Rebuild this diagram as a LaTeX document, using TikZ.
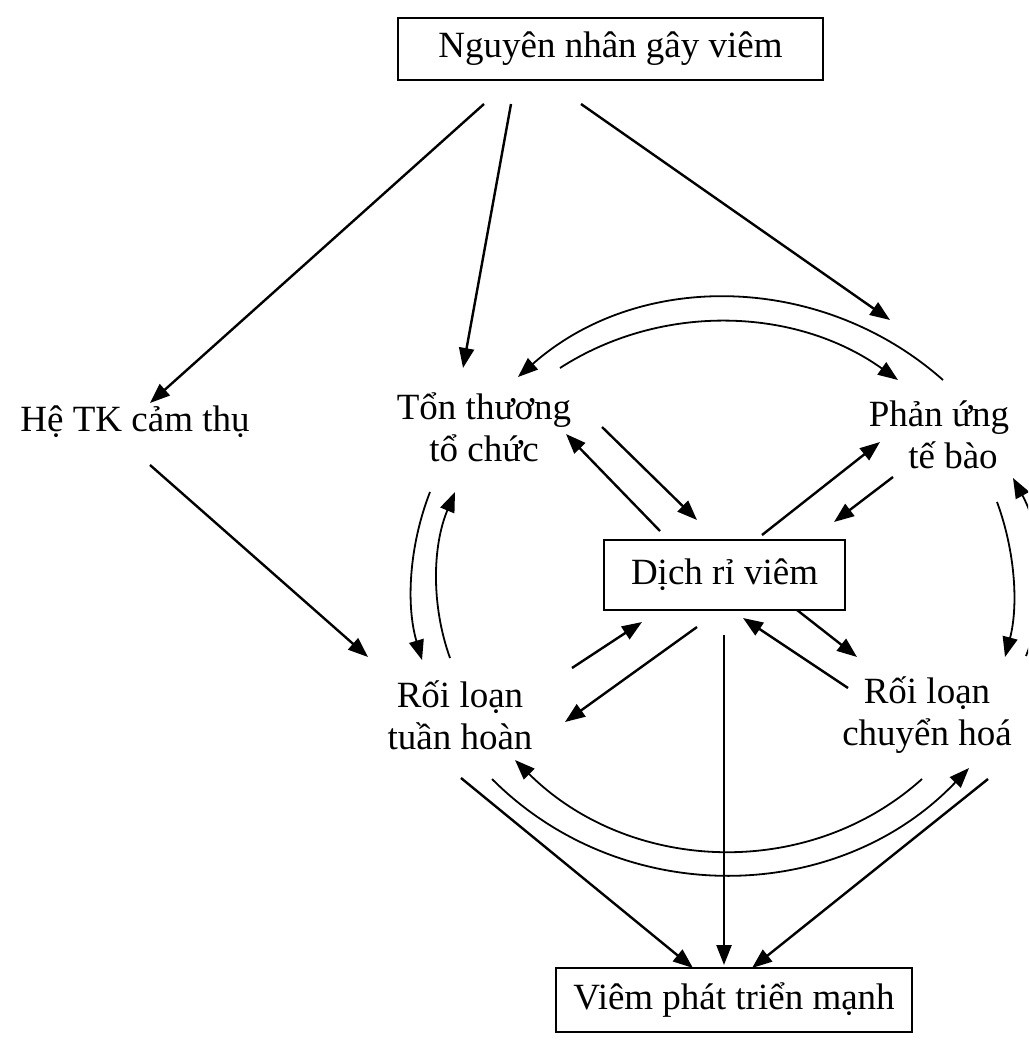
\documentclass[tikz,border=0pt]{standalone}
\usepackage{fontspec}
\setmainfont{Liberation Serif}
\usetikzlibrary{arrows.meta}
\begin{document}
\begin{tikzpicture}[x=1pt,y=-1pt,
  lbl/.style={font=\fontsize{37}{42}\selectfont, align=center, inner sep=0pt},
  boxnode/.style={draw, line width=1.6pt, font=\fontsize{37}{42}\selectfont, inner sep=0pt},
  arr/.style={line width=2.4pt, -{Triangle[length=20pt,width=15pt]}},
  carr/.style={line width=1.8pt, -{Triangle[length=20pt,width=15pt]}}]
\useasboundingbox (0,0) rectangle (1028,1064);
\clip (0,0) rectangle (1028,1064);
% nodes
\node[boxnode, minimum width=425pt, minimum height=62pt] (top) at (610.5,49) {Nguyên nhân gây viêm};
\node[boxnode, minimum width=241pt, minimum height=70pt] (dich) at (724.5,575) {Dịch rỉ viêm};
\node[boxnode, minimum width=356pt, minimum height=64pt] (bot) at (734,1000) {Viêm phát triển mạnh};
\node[lbl] (he) at (135,422) {Hệ TK cảm thụ};
\node[lbl] (ton) at (484,427) {Tổn thương\\tổ chức};
\node[lbl] (phan) at (939,435) {Phản ứng\\\hspace*{28pt}tế bào};
\node[lbl] (rlth) at (460,715) {Rối loạn\\tuần hoàn};
\node[lbl] (rlch) at (927,715) {Rối loạn\\chuyển hoá};
% from the top box
\draw[arr] ([shift={(-126.5,55)}]top.center) -- ([shift={(15,-19)}]he.center);
\draw[arr] ([shift={(-99.5,55)}]top.center) -- ([shift={(-21,-59)}]ton.center);
\draw[arr] ([shift={(-29.5,55)}]top.center) -- ([shift={(-49,-115)}]phan.center);
% top arcs
\draw[carr] ([shift={(4,-55)}]phan.center) .. controls (821.7,272.6) and (639.3,269.6) .. ([shift={(34,-50)}]ton.center);
\draw[carr] ([shift={(76,-59)}]ton.center) .. controls (662,302.3) and (796,307.1) .. ([shift={(-41,-55)}]phan.center);
% ton <-> dich
\draw[arr] ([shift={(118,0)}]ton.center) -- ([shift={(-27.5,-55)}]dich.center);
\draw[arr] ([shift={(-64.5,-44)}]dich.center) -- ([shift={(82,7)}]ton.center);
% phan <-> dich
\draw[arr] ([shift={(37.5,-40)}]dich.center) -- ([shift={(-59,7)}]phan.center);
\draw[arr] ([shift={(-46,42)}]phan.center) -- ([shift={(109.5,-53)}]dich.center);
% ton <-> rlth arcs
\draw[carr] ([shift={(-54,65)}]ton.center) .. controls (408.8,546.4) and (406,605.6) .. ([shift={(-38,-55)}]rlth.center);
\draw[carr] ([shift={(-10,-57)}]rlth.center) .. controls (430.8,604.5) and (432.6,545.5) .. ([shift={(-29,65)}]ton.center);
% he -> rlth
\draw[arr] ([shift={(15,43)}]he.center) -- ([shift={(-92,-58)}]rlth.center);
% rlth <-> dich
\draw[arr] ([shift={(112,-47)}]rlth.center) -- ([shift={(-82.5,47)}]dich.center);
\draw[arr] ([shift={(-27.5,52)}]dich.center) -- ([shift={(105,7)}]rlth.center);
% dich <-> rlch
\draw[arr] ([shift={(72.5,35)}]dich.center) -- ([shift={(-70,-58)}]rlch.center);
\draw[arr] ([shift={(-79,-27)}]rlch.center) -- ([shift={(18.5,43)}]dich.center);
% to the bottom box
\draw[arr] ([shift={(-0.5,60)}]dich.center) -- ([shift={(-10,-35)}]bot.center);
\draw[arr] ([shift={(1,63)}]rlth.center) -- ([shift={(-41,-32)}]bot.center);
\draw[arr] ([shift={(61,64)}]rlch.center) -- ([shift={(18,-32)}]bot.center);
% bottom arcs
\draw[carr] ([shift={(-5,64)}]rlch.center) .. controls (807.9,881.5) and (629.1,873.3) .. ([shift={(55,45)}]rlth.center);
\draw[carr] ([shift={(32,64)}]rlth.center) .. controls (622.7,910.1) and (838.3,905.1) .. ([shift={(42,53)}]rlch.center);
% right arcs
\draw[carr] ([shift={(58,67)}]phan.center) .. controls (1015.6,552.3) and (1018.3,606.7) .. ([shift={(78,-58)}]rlch.center);
\draw[carr] ([shift={(99,-59)}]rlch.center) .. controls (1048.4,599.6) and (1043.6,534.4) .. ([shift={(74,43)}]phan.center);
\end{tikzpicture}
\end{document}
